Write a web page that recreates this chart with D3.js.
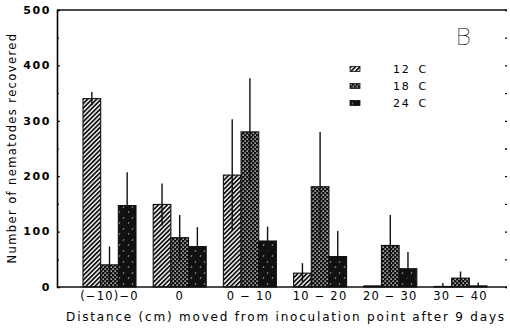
<!DOCTYPE html>
<html>
<head>
<meta charset="utf-8">
<script src="https://cdn.jsdelivr.net/npm/d3@7"></script>
<style>
body { margin: 0; background: #fff; }
svg { display: block; font-family: "DejaVu Sans", sans-serif; }
</style>
</head>
<body>
<div class="chart"></div>
<script>
// data
const categories = ["(\u221210)\u22120", "0", "0 \u2212 10", "10 \u2212 20", "20 \u2212 30", "30 \u2212 40"];
const series = ["12 C", "18 C", "24 C"];
const mean12 = [340, 149, 202, 25, 2, 1];
const mean18 = [40, 89, 280, 181, 75, 16];
const mean24 = [147, 73, 83, 55, 33, 2];
const err12 = [12, 38, 101, 18, 0, 6];
const err18 = [33, 41, 97, 99, 55, 12];
const err24 = [60, 35, 26, 46, 30, 6];
const yTicks = [0, 100, 200, 300, 400, 500];

let width = 510, height = 328;
let margin = { left: 57, right: 3, top: 10, bottom: 41 };

let svg = d3.select(".chart").append("svg").attr("width", width).attr("height", height);

// fill patterns
let defs = svg.append("defs");
let p1 = defs.append("pattern").attr("id", "pat12").attr("patternUnits", "userSpaceOnUse")
	.attr("width", 3.2).attr("height", 3.2).attr("patternTransform", "rotate(45)");
p1.append("rect").attr("width", 3.2).attr("height", 3.2).attr("fill", "#fff");
p1.append("rect").attr("width", 1.8).attr("height", 3.2).attr("fill", "#111");

let p2 = defs.append("pattern").attr("id", "pat18").attr("patternUnits", "userSpaceOnUse")
	.attr("width", 4).attr("height", 4);
p2.append("rect").attr("width", 4).attr("height", 4).attr("fill", "#111");
p2.append("rect").attr("x", 0.5).attr("y", 0.5).attr("width", 1.3).attr("height", 1.3).attr("fill", "#fff");
p2.append("rect").attr("x", 2.5).attr("y", 2.5).attr("width", 1.3).attr("height", 1.3).attr("fill", "#fff");

let p3 = defs.append("pattern").attr("id", "pat24").attr("patternUnits", "userSpaceOnUse")
	.attr("width", 9).attr("height", 11);
p3.append("rect").attr("width", 9).attr("height", 11).attr("fill", "#111");
p3.append("line").attr("x1", 2).attr("y1", 4).attr("x2", 3).attr("y2", 2).attr("stroke", "#ccc").attr("stroke-width", 0.7);
p3.append("line").attr("x1", 6).attr("y1", 10).attr("x2", 7).attr("y2", 8).attr("stroke", "#ccc").attr("stroke-width", 0.7);

let fills = ["url(#pat12)", "url(#pat18)", "url(#pat24)"];
let means = [mean12, mean18, mean24];
let errs = [err12, err18, err24];

let x0 = d3.scaleBand().domain(categories).range([74.4, 495.6]).paddingInner(0.245).paddingOuter(0.1225);
let x1 = d3.scaleBand().domain(series).range([0, x0.bandwidth()]);
let y = d3.scaleLinear().domain([0, 500]).range([height - margin.bottom, margin.top]);

let xl = margin.left, xr = width - margin.right;

// bars
let rows = [];
categories.forEach(function (c, i) {
	series.forEach(function (s, j) {
		rows.push({ cat: c, ser: s, v: means[j][i], e: errs[j][i], fill: fills[j] });
	});
});

svg.append("g").selectAll("rect").data(rows).join("rect")
	.attr("x", d => x0(d.cat) + x1(d.ser))
	.attr("y", d => y(d.v))
	.attr("width", x1.bandwidth())
	.attr("height", d => y(0) - y(d.v))
	.attr("fill", d => d.fill)
	.attr("stroke", "#111")
	.attr("stroke-width", 1.1);

// error bars
svg.append("g").selectAll("line").data(rows.filter(d => d.e > 0)).join("line")
	.attr("x1", d => x0(d.cat) + x1(d.ser) + x1.bandwidth() / 2)
	.attr("x2", d => x0(d.cat) + x1(d.ser) + x1.bandwidth() / 2)
	.attr("y1", d => y(Math.max(0, d.v - d.e)))
	.attr("y2", d => y(d.v + d.e))
	.attr("stroke", "#111")
	.attr("stroke-width", 1.4);

// axes
let minor = d3.range(0, 501, 50);
let yAxis = d3.axisRight(y).tickValues(yTicks).tickSize(3).tickFormat("");
svg.append("g").attr("transform", "translate(" + xl + ",0)").call(yAxis)
	.call(g => g.select(".domain").attr("stroke-width", 1.6));
svg.append("g").attr("transform", "translate(" + xl + ",0)")
	.call(d3.axisRight(y).tickValues(minor).tickSize(2).tickFormat(""))
	.call(g => g.select(".domain").remove());
svg.append("g").attr("transform", "translate(" + xr + ",0)")
	.call(d3.axisLeft(y).tickValues(minor).tickSize(2).tickFormat(""))
	.call(g => g.select(".domain").remove())
	.call(g => g.selectAll(".tick line").attr("stroke-width", 1.3));

// y tick labels
svg.append("g").selectAll("text").data(yTicks).join("text")
	.attr("x", xl - 6)
	.attr("y", d => y(d))
	.attr("dy", "0.35em")
	.attr("text-anchor", "end")
	.attr("font-size", 11)
	.attr("font-weight", "bold")
	.attr("letter-spacing", 1.6)
	.text(d => d);

// frame lines: bottom and top
svg.append("line").attr("x1", xl).attr("x2", xr).attr("y1", y(0)).attr("y2", y(0))
	.attr("stroke", "#111").attr("stroke-width", 1.6);
svg.append("line").attr("x1", xl).attr("x2", xr).attr("y1", y(500)).attr("y2", y(500))
	.attr("stroke", "#111").attr("stroke-width", 1.4);

// x tick labels
svg.append("g").selectAll("text").data(categories).join("text")
	.attr("x", d => x0(d) + x0.bandwidth() / 2)
	.attr("y", y(0) + 12.5)
	.attr("text-anchor", "middle")
	.attr("font-size", 11.5)
	.attr("letter-spacing", 1.2)
	.text(d => d);

// axis titles
svg.append("text")
	.attr("x", 286).attr("y", 321)
	.attr("text-anchor", "middle")
	.attr("font-size", 12)
	.attr("letter-spacing", 1.8)
	.text("Distance (cm) moved from inoculation point after 9 days");

svg.append("text")
	.attr("transform", "translate(16,148) rotate(-90)")
	.attr("text-anchor", "middle")
	.attr("font-size", 11.5)
	.attr("letter-spacing", 1.4)
	.text("Number of nematodes recovered");

// legend
let legend = svg.append("g").selectAll("g").data(series).join("g")
	.attr("transform", (d, i) => "translate(350," + (66.5 + i * 17) + ")");
legend.append("rect").attr("width", 10).attr("height", 5)
	.attr("fill", (d, i) => fills[i]).attr("stroke", "#111").attr("stroke-width", 0.8);
legend.append("text").attr("x", 43).attr("y", 6.5)
	.attr("font-size", 11).attr("letter-spacing", 1.7).attr("word-spacing", 3)
	.text(d => d);

// panel letter
svg.append("text").attr("x", 456).attr("y", 45)
	.attr("font-size", 24).attr("font-family", "'Noto Sans', sans-serif")
	.attr("font-weight", 100)
	.text("B");
</script>
</body>
</html>
